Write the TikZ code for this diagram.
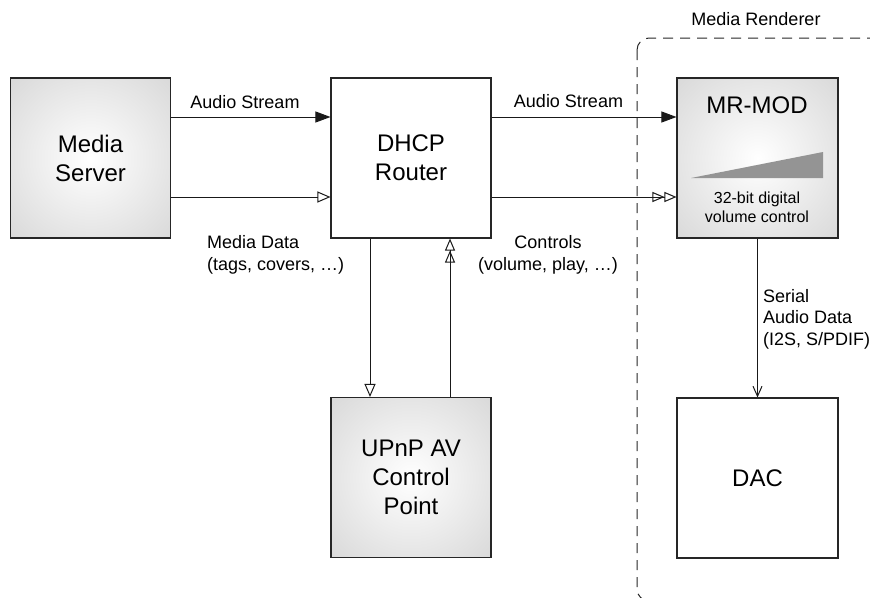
\documentclass[tikz,border=0pt]{standalone}
\usepackage{fontspec}
\setmainfont{Liberation Sans}
\usetikzlibrary{arrows.meta}
\pgfdeclareradialshading{boxshade}{\pgfpoint{0bp}{0bp}}{color(0bp)=(white); color(50bp)=(black!21); color(72bp)=(black!26)}
\begin{document}
\begin{tikzpicture}[x=1pt,y=-1pt,
  box/.style={draw=black!85, line width=1.1pt, minimum width=160pt, minimum height=160pt, inner sep=0pt, align=center, font=\fontsize{24}{29}\selectfont},
  shadedbox/.style={box, shading=boxshade},
  lbl/.style={font=\fontsize{18}{22}\selectfont, align=center, inner sep=0pt},
  conn/.style={line width=1pt, draw=black!90},
  fillhead/.style={conn, -{Triangle[length=15pt,width=11pt]}},
  openhead/.style={conn, -{Triangle[open,length=13pt,width=11pt]}},
  dblhead/.style={conn, -{Triangle[open,length=12pt,width=10pt]Triangle[open,length=12pt,width=10pt]}},
  barbhead/.style={conn, -{Straight Barb[length=10pt,width=9pt]}},
  group/.style={draw=black!85, line width=1pt, dash pattern=on 10pt off 7pt, rounded corners=12pt}
]
\useasboundingbox (0,0) rectangle (870,597);
\clip (0,0) rectangle (870,597);

% group frame
\draw[group] (637,38) rectangle (905,601);
\node[lbl] (mrlabel) at (756,19) {Media Renderer};

% boxes
\node[shadedbox] (ms) at (90.5,158) {Media\\Server};
\node[box] (dhcp) at (411,158) {DHCP\\Router};
\node[shadedbox, minimum width=161pt] (mr) at (757.5,158) {};
\node[shadedbox] (upnp) at (411,477.5) {UPnP AV\\Control\\Point};
\node[box, minimum width=161pt] (dac) at (757.5,478) {DAC};

% MR-MOD content
\node[inner sep=0pt, font=\fontsize{24}{29}\selectfont] (mrtitle) at (757,105) {MR-MOD};
\fill[black!42] (691,178) -- (823,178) -- (823,152) -- cycle;
\node[inner sep=0pt, align=center, font=\fontsize{16}{19}\selectfont] (mrsub) at (757,207) {32-bit digital\\volume control};

% connectors
\draw[fillhead] ([yshift=41pt]ms.east) -- ([yshift=41pt]dhcp.west);
\draw[openhead] ([yshift=-39pt]ms.east) -- ([yshift=-39pt]dhcp.west);
\draw[fillhead] ([yshift=41pt]dhcp.east) -- ([yshift=41pt]mr.west);
\draw[dblhead] ([yshift=-39pt]dhcp.east) -- ([yshift=-39pt]mr.west);
\draw[openhead] ([xshift=-41pt]dhcp.south) -- ([xshift=-41pt]upnp.north);
\draw[dblhead] ([xshift=39pt]upnp.north) -- ([xshift=39pt]dhcp.south);
\draw[barbhead] (mr.south) -- (dac.north);

% labels
\node[lbl] (l1) at (245,102) {Audio Stream};
\node[lbl] (l2) at (568.5,101) {Audio Stream};
\node[lbl, anchor=north west, align=left] (l3) at (207,235) {Media Data\\(tags, covers, …)};
\node[lbl, anchor=north] (l4) at (548,235) {Controls\\(volume, play, …)};
\node[lbl, anchor=west, align=left, font=\fontsize{18}{21.5}\selectfont] (l5) at (763,319) {Serial\\Audio Data\\(I2S, S/PDIF)};
\end{tikzpicture}
\end{document}
